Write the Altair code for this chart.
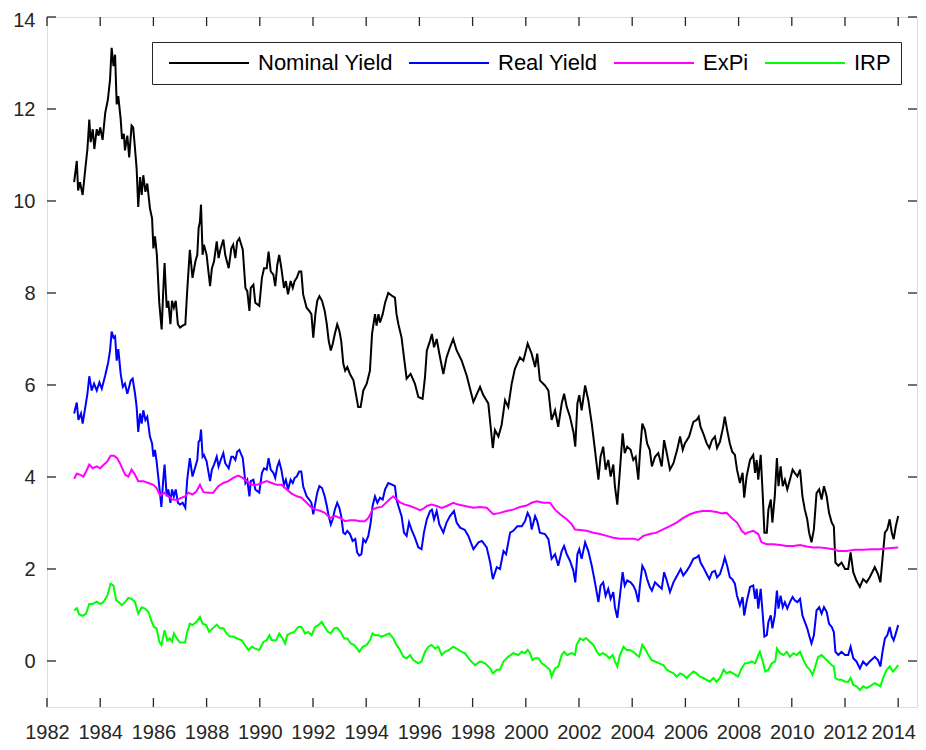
import altair as alt
import pandas as pd

series_names = ["Nominal Yield", "Real Yield", "ExPi", "IRP"]
series_colors = ["#000000", "#0000ff", "#ff00ff", "#00ff00"]
x_ticks = list(range(1982, 2015, 2))
y_ticks = list(range(0, 15, 2))

nominal_year = [
    1983.02, 1983.12, 1983.17, 1983.24, 1983.34, 1983.44, 1983.52, 1983.59, 1983.64, 1983.72,
    1983.78, 1983.87, 1983.94, 1984.00, 1984.09, 1984.19, 1984.29, 1984.37, 1984.43, 1984.50,
    1984.56, 1984.62, 1984.68, 1984.77, 1984.82, 1984.89, 1984.93, 1985.02, 1985.09, 1985.18,
    1985.24, 1985.31, 1985.37, 1985.43, 1985.50, 1985.56, 1985.62, 1985.70, 1985.77, 1985.87,
    1985.95, 1986.00, 1986.06, 1986.13, 1986.22, 1986.31, 1986.37, 1986.42, 1986.50, 1986.56,
    1986.64, 1986.70, 1986.77, 1986.84, 1986.92, 1987.00, 1987.10, 1987.20, 1987.27, 1987.37,
    1987.47, 1987.58, 1987.65, 1987.70, 1987.75, 1987.79, 1987.85, 1987.90, 1988.00, 1988.13,
    1988.20, 1988.28, 1988.38, 1988.45, 1988.53, 1988.63, 1988.70, 1988.83, 1988.93, 1989.00,
    1989.08, 1989.15, 1989.23, 1989.36, 1989.46, 1989.53, 1989.61, 1989.66, 1989.76, 1989.83,
    1989.98, 1990.08, 1990.16, 1990.26, 1990.33, 1990.41, 1990.51, 1990.58, 1990.66, 1990.73,
    1990.81, 1990.91, 1990.98, 1991.06, 1991.16, 1991.24, 1991.31, 1991.39, 1991.48, 1991.56,
    1991.63, 1991.76, 1991.86, 1991.94, 1992.01, 1992.09, 1992.16, 1992.24, 1992.34, 1992.44,
    1992.52, 1992.59, 1992.67, 1992.74, 1992.82, 1992.91, 1992.99, 1993.06, 1993.14, 1993.21,
    1993.29, 1993.39, 1993.52, 1993.70, 1993.79, 1993.89, 1994.02, 1994.14, 1994.22, 1994.33,
    1994.39, 1994.46, 1994.52, 1994.62, 1994.71, 1994.83, 1994.99, 1995.08, 1995.14, 1995.21,
    1995.33, 1995.42, 1995.52, 1995.67, 1995.83, 1995.96, 1996.12, 1996.21, 1996.28, 1996.40,
    1996.47, 1996.55, 1996.65, 1996.75, 1996.90, 1997.02, 1997.15, 1997.27, 1997.40, 1997.59,
    1997.78, 1998.03, 1998.28, 1998.40, 1998.59, 1998.76, 1998.84, 1998.97, 1999.09, 1999.22,
    1999.34, 1999.47, 1999.59, 1999.78, 1999.91, 2000.07, 2000.22, 2000.35, 2000.43, 2000.53,
    2000.72, 2000.85, 2000.97, 2001.10, 2001.22, 2001.35, 2001.44, 2001.54, 2001.66, 2001.79,
    2001.86, 2001.94, 2002.01, 2002.10, 2002.23, 2002.35, 2002.48, 2002.60, 2002.73, 2002.81,
    2002.91, 2003.00, 2003.10, 2003.19, 2003.29, 2003.35, 2003.44, 2003.54, 2003.64, 2003.72,
    2003.81, 2003.94, 2004.04, 2004.13, 2004.23, 2004.29, 2004.38, 2004.48, 2004.56, 2004.66,
    2004.74, 2004.86, 2004.98, 2005.11, 2005.20, 2005.30, 2005.42, 2005.55, 2005.69, 2005.80,
    2005.90, 2005.98, 2006.14, 2006.30, 2006.42, 2006.50, 2006.57, 2006.67, 2006.80, 2006.90,
    2007.00, 2007.11, 2007.19, 2007.30, 2007.42, 2007.48, 2007.57, 2007.67, 2007.76, 2007.86,
    2007.94, 2008.05, 2008.15, 2008.21, 2008.30, 2008.43, 2008.55, 2008.62, 2008.68, 2008.74,
    2008.83, 2008.91, 2008.97, 2009.06, 2009.12, 2009.21, 2009.27, 2009.36, 2009.44, 2009.50,
    2009.58, 2009.66, 2009.74, 2009.83, 2009.93, 2010.03, 2010.11, 2010.21, 2010.31, 2010.40,
    2010.49, 2010.58, 2010.65, 2010.74, 2010.83, 2010.93, 2011.03, 2011.12, 2011.21, 2011.31,
    2011.40, 2011.50, 2011.58, 2011.64, 2011.75, 2011.87, 2012.00, 2012.12, 2012.21, 2012.31,
    2012.43, 2012.56, 2012.68, 2012.81, 2012.93, 2013.12, 2013.24, 2013.33, 2013.41, 2013.50,
    2013.59, 2013.68, 2013.76, 2013.83, 2013.91, 2014.00,
]
nominal_value = [
    10.41, 10.87, 10.23, 10.41, 10.13, 10.70, 11.13, 11.77, 11.28, 11.56,
    11.13, 11.56, 11.42, 11.60, 11.33, 11.92, 12.21, 12.64, 13.33, 12.93,
    13.18, 12.10, 12.28, 11.78, 11.35, 11.46, 11.10, 11.42, 10.95, 11.64,
    11.60, 11.13, 10.70, 9.87, 10.52, 10.13, 10.56, 10.20, 10.38, 9.84,
    9.62, 8.97, 9.23, 8.83, 7.79, 7.21, 8.04, 8.65, 7.68, 7.83,
    7.32, 7.83, 7.68, 7.83, 7.32, 7.25, 7.29, 7.32, 8.04, 8.94,
    8.33, 8.69, 8.83, 9.41, 9.55, 9.92, 8.83, 9.05, 8.83, 8.15,
    8.54, 8.69, 9.12, 8.76, 8.97, 9.16, 8.83, 8.54, 8.97, 9.05,
    8.76, 9.12, 9.19, 8.94, 8.11, 8.04, 7.61, 8.11, 8.18, 7.79,
    7.72, 8.33, 8.54, 8.54, 8.90, 8.47, 8.40, 8.15, 8.62, 8.83,
    8.54, 8.11, 8.26, 7.97, 8.26, 8.11, 8.26, 8.33, 8.47, 8.47,
    7.97, 7.68, 7.61, 7.54, 7.03, 7.54, 7.83, 7.93, 7.83, 7.61,
    7.32, 6.96, 6.75, 6.89, 7.11, 7.32, 7.18, 6.96, 6.46, 6.31,
    6.39, 6.24, 6.10, 5.52, 5.52, 5.88, 6.03, 6.31, 7.11, 7.54,
    7.29, 7.54, 7.36, 7.54, 7.79, 8.00, 7.93, 7.90, 7.54, 7.32,
    7.03, 6.60, 6.14, 6.24, 6.03, 5.74, 5.70, 6.17, 6.75, 6.96,
    7.11, 6.82, 7.00, 6.68, 6.24, 6.60, 6.82, 7.00, 6.75, 6.53,
    6.20, 5.63, 5.96, 5.78, 5.60, 4.63, 5.02, 4.88, 5.13, 5.67,
    5.52, 6.03, 6.35, 6.60, 6.53, 6.90, 6.68, 6.39, 6.68, 6.10,
    5.99, 5.88, 5.24, 5.45, 5.09, 5.60, 5.81, 5.52, 5.31, 4.98,
    4.66, 5.60, 5.78, 5.45, 5.99, 5.67, 5.16, 4.59, 3.94, 4.44,
    4.66, 4.16, 4.37, 4.01, 4.27, 3.80, 3.40, 4.16, 4.95, 4.52,
    4.66, 4.59, 4.37, 4.44, 3.94, 4.52, 5.16, 5.02, 4.73, 4.59,
    4.23, 4.44, 4.52, 4.23, 4.80, 4.52, 4.16, 4.30, 4.59, 4.88,
    4.59, 4.73, 4.88, 5.20, 5.24, 5.31, 5.09, 4.95, 4.73, 4.63,
    4.80, 4.88, 4.63, 4.77, 5.09, 5.31, 5.02, 4.73, 4.55, 4.48,
    4.16, 3.87, 4.09, 3.55, 4.01, 4.37, 4.48, 4.09, 4.37, 3.94,
    4.48, 3.58, 2.79, 2.79, 3.29, 3.51, 3.01, 3.58, 4.41, 3.80,
    4.23, 3.80, 3.94, 3.73, 3.94, 4.16, 4.09, 4.01, 4.16, 3.58,
    3.29, 3.08, 2.79, 2.58, 2.86, 3.65, 3.73, 3.51, 3.80, 3.58,
    3.22, 3.01, 2.93, 2.14, 2.07, 2.14, 2.00, 2.00, 2.36, 1.93,
    1.75, 1.61, 1.78, 1.71, 1.82, 2.04, 1.89, 1.71, 2.22, 2.79,
    2.86, 3.08, 2.79, 2.65, 2.93, 3.15,
]

real_year = [
    1983.02, 1983.12, 1983.18, 1983.28, 1983.34, 1983.44, 1983.52, 1983.59, 1983.68, 1983.77,
    1983.87, 1983.97, 1984.06, 1984.19, 1984.30, 1984.37, 1984.43, 1984.50, 1984.56, 1984.62,
    1984.68, 1984.77, 1984.85, 1984.93, 1985.02, 1985.09, 1985.15, 1985.22, 1985.31, 1985.37,
    1985.43, 1985.50, 1985.56, 1985.62, 1985.70, 1985.77, 1985.87, 1985.95, 1986.00, 1986.06,
    1986.12, 1986.22, 1986.30, 1986.37, 1986.42, 1986.50, 1986.56, 1986.64, 1986.70, 1986.77,
    1986.84, 1986.92, 1987.00, 1987.10, 1987.20, 1987.27, 1987.37, 1987.47, 1987.58, 1987.65,
    1987.70, 1987.75, 1987.79, 1987.85, 1987.90, 1988.00, 1988.13, 1988.20, 1988.28, 1988.38,
    1988.45, 1988.53, 1988.63, 1988.70, 1988.83, 1988.93, 1989.00, 1989.08, 1989.15, 1989.23,
    1989.36, 1989.46, 1989.53, 1989.61, 1989.66, 1989.76, 1989.83, 1989.98, 1990.08, 1990.16,
    1990.26, 1990.33, 1990.41, 1990.51, 1990.58, 1990.66, 1990.73, 1990.81, 1990.91, 1990.98,
    1991.06, 1991.16, 1991.24, 1991.31, 1991.39, 1991.48, 1991.56, 1991.63, 1991.76, 1991.86,
    1991.94, 1992.01, 1992.09, 1992.16, 1992.24, 1992.34, 1992.44, 1992.52, 1992.59, 1992.67,
    1992.74, 1992.82, 1992.91, 1992.99, 1993.06, 1993.14, 1993.21, 1993.29, 1993.39, 1993.49,
    1993.59, 1993.66, 1993.74, 1993.82, 1993.89, 1993.98, 1994.08, 1994.17, 1994.24, 1994.33,
    1994.42, 1994.52, 1994.62, 1994.71, 1994.83, 1994.99, 1995.08, 1995.14, 1995.21, 1995.33,
    1995.42, 1995.52, 1995.61, 1995.70, 1995.83, 1995.96, 1996.08, 1996.17, 1996.28, 1996.40,
    1996.47, 1996.55, 1996.65, 1996.75, 1996.90, 1997.02, 1997.15, 1997.30, 1997.40, 1997.53,
    1997.71, 1997.84, 1998.03, 1998.22, 1998.35, 1998.53, 1998.66, 1998.76, 1998.91, 1999.03,
    1999.16, 1999.26, 1999.41, 1999.53, 1999.68, 1999.85, 1999.97, 2000.07, 2000.16, 2000.22,
    2000.35, 2000.43, 2000.53, 2000.72, 2000.85, 2000.97, 2001.10, 2001.22, 2001.35, 2001.44,
    2001.54, 2001.66, 2001.79, 2001.86, 2001.94, 2002.01, 2002.10, 2002.23, 2002.35, 2002.48,
    2002.60, 2002.73, 2002.81, 2002.91, 2003.00, 2003.10, 2003.19, 2003.29, 2003.35, 2003.44,
    2003.54, 2003.64, 2003.72, 2003.81, 2003.94, 2004.04, 2004.13, 2004.23, 2004.29, 2004.38,
    2004.48, 2004.56, 2004.66, 2004.74, 2004.86, 2004.98, 2005.11, 2005.20, 2005.30, 2005.42,
    2005.55, 2005.69, 2005.82, 2005.92, 2006.05, 2006.17, 2006.30, 2006.42, 2006.50, 2006.57,
    2006.67, 2006.80, 2006.90, 2007.00, 2007.11, 2007.19, 2007.30, 2007.42, 2007.48, 2007.57,
    2007.67, 2007.76, 2007.86, 2007.94, 2008.05, 2008.15, 2008.21, 2008.30, 2008.43, 2008.55,
    2008.62, 2008.68, 2008.74, 2008.83, 2008.91, 2008.97, 2009.06, 2009.12, 2009.21, 2009.27,
    2009.36, 2009.44, 2009.50, 2009.58, 2009.66, 2009.74, 2009.83, 2009.93, 2010.03, 2010.11,
    2010.21, 2010.31, 2010.40, 2010.49, 2010.58, 2010.65, 2010.74, 2010.83, 2010.93, 2011.03,
    2011.12, 2011.21, 2011.31, 2011.40, 2011.50, 2011.58, 2011.64, 2011.75, 2011.87, 2012.00,
    2012.12, 2012.21, 2012.31, 2012.43, 2012.56, 2012.68, 2012.81, 2012.93, 2013.12, 2013.24,
    2013.33, 2013.41, 2013.50, 2013.59, 2013.68, 2013.76, 2013.83, 2013.91, 2014.00,
]
real_value = [
    5.38, 5.62, 5.24, 5.38, 5.16, 5.52, 5.81, 6.19, 5.88, 6.03,
    5.88, 6.06, 5.92, 6.21, 6.49, 6.75, 7.16, 7.03, 7.06, 6.53,
    6.78, 6.24, 5.96, 6.03, 5.81, 5.96, 6.10, 6.14, 5.81, 5.52,
    4.98, 5.38, 5.16, 5.45, 5.24, 5.31, 4.88, 4.73, 4.44, 4.59,
    4.34, 3.80, 3.35, 3.94, 4.27, 3.58, 3.73, 3.44, 3.73, 3.58,
    3.73, 3.44, 3.40, 3.44, 3.33, 3.94, 4.41, 4.01, 4.23, 4.37,
    4.77, 4.80, 5.03, 4.44, 4.48, 4.34, 3.91, 4.16, 4.27, 4.44,
    4.23, 4.37, 4.52, 4.30, 4.19, 4.44, 4.44, 4.37, 4.55, 4.59,
    4.41, 3.87, 3.94, 3.58, 3.91, 3.94, 3.73, 3.66, 4.09, 4.19,
    4.16, 4.41, 4.16, 4.09, 3.98, 4.23, 4.34, 4.16, 3.83, 3.94,
    3.73, 3.94, 3.87, 3.98, 4.01, 4.12, 4.12, 3.80, 3.58, 3.51,
    3.44, 3.19, 3.44, 3.66, 3.80, 3.76, 3.58, 3.37, 3.15, 2.97,
    3.08, 3.29, 3.44, 3.33, 3.15, 2.79, 2.76, 2.83, 2.76, 2.61,
    2.65, 2.36, 2.29, 2.32, 2.65, 2.58, 2.72, 3.01, 3.37, 3.58,
    3.44, 3.55, 3.51, 3.73, 3.87, 3.83, 3.80, 3.51, 3.37, 3.15,
    2.79, 2.72, 3.01, 2.86, 2.68, 2.47, 2.43, 2.79, 3.08, 3.26,
    3.29, 3.08, 3.26, 2.97, 2.79, 3.01, 3.15, 3.26, 3.01, 2.90,
    2.85, 2.72, 2.43, 2.58, 2.61, 2.47, 2.14, 1.78, 2.04, 2.00,
    2.39, 2.32, 2.79, 2.83, 2.93, 2.93, 3.04, 3.22, 3.11, 2.86,
    3.15, 3.04, 2.79, 2.76, 2.65, 2.22, 2.32, 2.07, 2.39, 2.50,
    2.32, 2.18, 1.96, 1.71, 2.32, 2.43, 2.22, 2.58, 2.39, 2.07,
    1.71, 1.28, 1.64, 1.71, 1.42, 1.57, 1.35, 1.50, 1.17, 0.94,
    1.42, 1.93, 1.64, 1.75, 1.71, 1.64, 1.53, 1.28, 1.64, 2.07,
    1.96, 1.78, 1.61, 1.53, 1.71, 1.64, 1.57, 1.93, 1.75, 1.50,
    1.71, 1.86, 2.00, 1.86, 1.96, 2.07, 2.22, 2.25, 2.29, 2.14,
    2.04, 1.89, 1.78, 1.93, 1.96, 1.82, 1.89, 2.11, 2.25, 2.07,
    1.82, 1.78, 1.68, 1.42, 1.21, 1.39, 0.99, 1.28, 1.61, 1.64,
    1.35, 1.57, 1.14, 1.57, 0.99, 0.53, 0.56, 0.85, 0.99, 0.71,
    0.99, 1.53, 1.14, 1.42, 1.17, 1.28, 1.14, 1.28, 1.39, 1.32,
    1.28, 1.35, 0.99, 0.85, 0.71, 0.56, 0.38, 0.56, 1.10, 1.17,
    1.03, 1.17, 1.07, 0.81, 0.74, 0.63, 0.20, 0.13, 0.20, 0.13,
    0.13, 0.31, 0.06, -0.01, -0.16, -0.01, -0.09, -0.01, 0.09, 0.02,
    -0.12, 0.20, 0.49, 0.56, 0.74, 0.53, 0.45, 0.60, 0.78,
]

expi_year = [
    1983.02, 1983.12, 1983.24, 1983.37, 1983.47, 1983.59, 1983.72, 1983.87, 1984.00, 1984.14,
    1984.27, 1984.39, 1984.52, 1984.64, 1984.74, 1984.85, 1984.94, 1985.06, 1985.18, 1985.31,
    1985.43, 1985.62, 1985.81, 1986.00, 1986.12, 1986.25, 1986.40, 1986.56, 1986.72, 1986.88,
    1987.06, 1987.19, 1987.31, 1987.47, 1987.62, 1987.75, 1987.88, 1988.06, 1988.25, 1988.44,
    1988.63, 1988.82, 1989.00, 1989.19, 1989.36, 1989.51, 1989.70, 1989.89, 1990.07, 1990.26,
    1990.45, 1990.64, 1990.82, 1991.01, 1991.20, 1991.39, 1991.57, 1991.76, 1991.95, 1992.11,
    1992.29, 1992.44, 1992.64, 1992.83, 1993.02, 1993.20, 1993.39, 1993.58, 1993.77, 1993.95,
    1994.08, 1994.24, 1994.39, 1994.58, 1994.77, 1994.89, 1995.02, 1995.14, 1995.27, 1995.46,
    1995.65, 1995.83, 1996.02, 1996.15, 1996.28, 1996.46, 1996.65, 1996.84, 1997.03, 1997.27,
    1997.46, 1997.71, 1998.03, 1998.28, 1998.53, 1998.78, 1999.03, 1999.28, 1999.53, 1999.78,
    2000.03, 2000.22, 2000.41, 2000.66, 2000.91, 2001.10, 2001.29, 2001.54, 2001.73, 2001.85,
    2002.04, 2002.29, 2002.54, 2002.79, 2003.04, 2003.29, 2003.54, 2003.79, 2004.04, 2004.23,
    2004.42, 2004.66, 2004.91, 2005.16, 2005.42, 2005.67, 2005.92, 2006.17, 2006.42, 2006.67,
    2006.92, 2007.17, 2007.36, 2007.55, 2007.74, 2007.94, 2008.12, 2008.25, 2008.33, 2008.55,
    2008.74, 2008.86, 2009.06, 2009.31, 2009.56, 2009.81, 2010.06, 2010.31, 2010.56, 2010.80,
    2011.05, 2011.31, 2011.56, 2011.75, 2012.06, 2012.37, 2012.68, 2012.99, 2013.30, 2013.62,
    2014.00,
]
expi_value = [
    3.96, 4.07, 4.05, 4.01, 4.12, 4.27, 4.19, 4.23, 4.19, 4.27,
    4.34, 4.46, 4.46, 4.41, 4.30, 4.16, 4.05, 4.01, 4.16, 4.05,
    3.91, 3.91, 3.87, 3.83, 3.76, 3.60, 3.66, 3.58, 3.51, 3.50,
    3.55, 3.58, 3.66, 3.62, 3.69, 3.83, 3.67, 3.66, 3.66, 3.80,
    3.87, 3.91, 3.98, 4.03, 3.98, 3.91, 3.83, 3.83, 3.87, 3.91,
    3.87, 3.83, 3.83, 3.73, 3.64, 3.58, 3.55, 3.44, 3.33, 3.29,
    3.26, 3.22, 3.11, 3.15, 3.11, 3.04, 3.06, 3.06, 3.04, 3.04,
    3.11, 3.29, 3.33, 3.35, 3.45, 3.52, 3.58, 3.51, 3.45, 3.40,
    3.37, 3.33, 3.28, 3.31, 3.37, 3.40, 3.37, 3.33, 3.37, 3.44,
    3.40, 3.37, 3.33, 3.35, 3.33, 3.19, 3.22, 3.26, 3.29, 3.35,
    3.38, 3.44, 3.47, 3.44, 3.44, 3.29, 3.19, 3.08, 2.97, 2.86,
    2.85, 2.83, 2.79, 2.76, 2.72, 2.68, 2.66, 2.66, 2.66, 2.63,
    2.72, 2.76, 2.79, 2.86, 2.93, 3.01, 3.11, 3.19, 3.24, 3.26,
    3.26, 3.24, 3.21, 3.22, 3.11, 3.01, 2.83, 2.76, 2.79, 2.83,
    2.76, 2.58, 2.54, 2.54, 2.52, 2.50, 2.50, 2.52, 2.49, 2.47,
    2.47, 2.45, 2.43, 2.39, 2.39, 2.42, 2.42, 2.43, 2.43, 2.45,
    2.47,
]

irp_year = [
    1983.02, 1983.12, 1983.21, 1983.34, 1983.47, 1983.59, 1983.72, 1983.87, 1984.00, 1984.12,
    1984.27, 1984.39, 1984.50, 1984.60, 1984.70, 1984.81, 1984.93, 1985.06, 1985.18, 1985.31,
    1985.43, 1985.56, 1985.68, 1985.81, 1985.94, 1986.02, 1986.12, 1986.22, 1986.30, 1986.37,
    1986.42, 1986.52, 1986.62, 1986.70, 1986.77, 1986.88, 1987.00, 1987.19, 1987.27, 1987.37,
    1987.47, 1987.62, 1987.75, 1987.85, 1987.98, 1988.10, 1988.23, 1988.38, 1988.50, 1988.63,
    1988.75, 1988.88, 1989.00, 1989.15, 1989.32, 1989.44, 1989.57, 1989.70, 1989.83, 1989.98,
    1990.14, 1990.26, 1990.36, 1990.45, 1990.61, 1990.73, 1990.86, 1990.95, 1991.03, 1991.14,
    1991.29, 1991.45, 1991.57, 1991.70, 1991.82, 1991.95, 1992.08, 1992.20, 1992.33, 1992.44,
    1992.57, 1992.67, 1992.80, 1992.91, 1993.04, 1993.17, 1993.29, 1993.42, 1993.54, 1993.66,
    1993.74, 1993.87, 1994.02, 1994.14, 1994.24, 1994.33, 1994.46, 1994.58, 1994.71, 1994.87,
    1995.02, 1995.14, 1995.27, 1995.40, 1995.52, 1995.65, 1995.77, 1995.96, 1996.08, 1996.21,
    1996.34, 1996.46, 1996.59, 1996.71, 1996.84, 1996.96, 1997.12, 1997.27, 1997.40, 1997.59,
    1997.71, 1997.90, 1998.09, 1998.28, 1998.47, 1998.66, 1998.76, 1998.91, 1999.03, 1999.16,
    1999.34, 1999.53, 1999.72, 1999.85, 1999.97, 2000.07, 2000.16, 2000.25, 2000.35, 2000.48,
    2000.60, 2000.77, 2000.90, 2000.97, 2001.10, 2001.22, 2001.35, 2001.44, 2001.56, 2001.73,
    2001.85, 2001.91, 2002.04, 2002.16, 2002.26, 2002.41, 2002.54, 2002.67, 2002.77, 2002.89,
    2003.02, 2003.14, 2003.27, 2003.35, 2003.44, 2003.54, 2003.67, 2003.79, 2003.91, 2004.04,
    2004.17, 2004.26, 2004.38, 2004.48, 2004.61, 2004.73, 2004.86, 2005.02, 2005.17, 2005.30,
    2005.42, 2005.55, 2005.67, 2005.80, 2005.92, 2006.05, 2006.17, 2006.30, 2006.42, 2006.55,
    2006.67, 2006.80, 2006.92, 2007.05, 2007.17, 2007.30, 2007.44, 2007.55, 2007.67, 2007.79,
    2007.98, 2008.11, 2008.24, 2008.33, 2008.49, 2008.62, 2008.74, 2008.80, 2008.91, 2009.00,
    2009.12, 2009.25, 2009.38, 2009.44, 2009.56, 2009.69, 2009.81, 2009.93, 2010.06, 2010.18,
    2010.31, 2010.44, 2010.56, 2010.68, 2010.78, 2010.86, 2010.99, 2011.12, 2011.24, 2011.37,
    2011.50, 2011.58, 2011.64, 2011.75, 2011.87, 2012.00, 2012.12, 2012.21, 2012.31, 2012.43,
    2012.56, 2012.68, 2012.81, 2012.93, 2013.12, 2013.24, 2013.33, 2013.45, 2013.57, 2013.68,
    2013.80, 2013.91, 2014.00,
]
irp_value = [
    1.10, 1.15, 1.01, 0.98, 1.03, 1.24, 1.24, 1.29, 1.24, 1.28,
    1.42, 1.68, 1.64, 1.32, 1.28, 1.21, 1.28, 1.37, 1.35, 1.28,
    1.03, 1.17, 1.14, 1.07, 0.85, 0.74, 0.71, 0.42, 0.35, 0.53,
    0.67, 0.45, 0.49, 0.42, 0.60, 0.49, 0.40, 0.40, 0.63, 0.81,
    0.78, 0.85, 0.96, 0.81, 0.78, 0.63, 0.71, 0.79, 0.71, 0.71,
    0.60, 0.53, 0.53, 0.49, 0.45, 0.35, 0.24, 0.31, 0.27, 0.24,
    0.42, 0.45, 0.56, 0.45, 0.45, 0.60, 0.49, 0.38, 0.56, 0.60,
    0.63, 0.74, 0.74, 0.60, 0.63, 0.56, 0.74, 0.78, 0.85, 0.74,
    0.63, 0.60, 0.71, 0.72, 0.63, 0.49, 0.49, 0.38, 0.35, 0.27,
    0.20, 0.31, 0.35, 0.45, 0.60, 0.56, 0.56, 0.53, 0.56, 0.60,
    0.49, 0.35, 0.24, 0.09, 0.06, 0.13, 0.02, -0.05, -0.01, 0.20,
    0.31, 0.35, 0.27, 0.31, 0.13, 0.20, 0.24, 0.31, 0.27, 0.20,
    0.17, 0.02, -0.09, -0.01, -0.05, -0.16, -0.27, -0.19, -0.19, -0.01,
    0.09, 0.17, 0.13, 0.20, 0.17, 0.24, 0.17, 0.02, 0.06, 0.06,
    -0.05, -0.12, -0.19, -0.34, -0.16, -0.12, 0.13, 0.20, 0.13, 0.17,
    0.13, 0.35, 0.49, 0.45, 0.50, 0.42, 0.35, 0.20, 0.13, 0.17,
    0.13, 0.06, 0.13, -0.01, -0.12, 0.13, 0.31, 0.24, 0.24, 0.20,
    0.13, 0.09, 0.35, 0.27, 0.13, 0.02, -0.01, -0.05, -0.09, -0.19,
    -0.23, -0.27, -0.34, -0.27, -0.30, -0.37, -0.30, -0.23, -0.27, -0.34,
    -0.37, -0.41, -0.45, -0.37, -0.45, -0.37, -0.19, -0.27, -0.23, -0.27,
    -0.34, -0.16, -0.05, -0.05, -0.01, -0.05, 0.13, 0.20, -0.01, -0.23,
    -0.19, -0.05, -0.01, 0.27, 0.17, 0.13, 0.20, 0.09, 0.17, 0.13,
    0.20, 0.02, -0.12, -0.19, -0.30, -0.16, 0.09, 0.13, 0.06, -0.01,
    -0.09, -0.12, -0.37, -0.41, -0.41, -0.45, -0.45, -0.37, -0.52, -0.55,
    -0.63, -0.55, -0.59, -0.55, -0.48, -0.52, -0.55, -0.34, -0.19, -0.12,
    -0.23, -0.16, -0.09,
]

frames = []
for name, yrs, vals in [
    ("Nominal Yield", nominal_year, nominal_value),
    ("Real Yield", real_year, real_value),
    ("ExPi", expi_year, expi_value),
    ("IRP", irp_year, irp_value),
]:
    frames.append(pd.DataFrame({"year": yrs, "value": vals, "series": name}))
df = pd.concat(frames, ignore_index=True)

# layout (pixels)
PX_PER_YEAR = 26.6
W, H = 870, 690
TOP_PAD = 9
TICK = 9
FONT = "Liberation Sans"
AXIS_COLOR = "#262626"
X_MIN = 1982
X_MAX = X_MIN + W / PX_PER_YEAR

xscale = alt.Scale(domain=[X_MIN, X_MAX], nice=False, zero=False)
yscale = alt.Scale(domain=[-1, 14], nice=False, zero=False)

x_axis = alt.Axis(values=x_ticks, format="d", title=None, ticks=False, tickSize=0,
                  domain=False, grid=False, labelFontSize=20, labelFont=FONT,
                  labelColor=AXIS_COLOR, labelPadding=31, labelBaseline="alphabetic",
                  labelFlush=False, labelOverlap=False,
                  labelOffset={"expr": f"datum.value == {x_ticks[-1]} ? -5 : 0"})
y_axis = alt.Axis(values=y_ticks, format="d", title=None, ticks=False, tickSize=0,
                  domain=False, grid=False, labelFontSize=20, labelFont=FONT,
                  labelColor=AXIS_COLOR, labelPadding=12, labelFlush=False,
                  labelOverlap=False,
                  labelOffset={"expr": f"datum.value == {y_ticks[-1]} ? 3 : 0"})

legend = alt.Legend(title=None, orient="none", legendX=105, legendY=42 - (8 + TOP_PAD),
                    direction="horizontal", columns=4,
                    symbolType="M-4,0H4", symbolSize=400, symbolStrokeWidth=2,
                    symbolOffset=36, labelOffset=38,
                    labelFontSize=22, labelFont=FONT, labelColor="black", labelLimit=400,
                    columnPadding=9, padding=10,
                    strokeColor=AXIS_COLOR, fillColor="white")

lines = alt.Chart(df).mark_line(strokeWidth=2).encode(
    x=alt.X("year:Q", scale=xscale, axis=x_axis),
    y=alt.Y("value:Q", scale=yscale, axis=y_axis),
    color=alt.Color("series:N",
                    scale=alt.Scale(domain=series_names, range=series_colors),
                    legend=legend),
    detail="series:N",
)

xt = pd.DataFrame({"year": x_ticks})
yt = pd.DataFrame({"value": y_ticks})
tick_style = dict(color=AXIS_COLOR, strokeWidth=1.3)

bottom_ticks = alt.Chart(xt).mark_rule(**tick_style).encode(
    x=alt.X("year:Q", scale=xscale, axis=x_axis), y=alt.value(H), y2=alt.value(H - TICK))
top_ticks = alt.Chart(xt).mark_rule(**tick_style).encode(
    x=alt.X("year:Q", scale=xscale, axis=x_axis), y=alt.value(0), y2=alt.value(TICK))
left_ticks = alt.Chart(yt).mark_rule(**tick_style).encode(
    y=alt.Y("value:Q", scale=yscale, axis=y_axis), x=alt.value(0), x2=alt.value(TICK))
right_ticks = alt.Chart(yt).mark_rule(**tick_style).encode(
    y=alt.Y("value:Q", scale=yscale, axis=y_axis), x=alt.value(W), x2=alt.value(W - TICK))

chart = alt.layer(lines, bottom_ticks, top_ticks, left_ticks, right_ticks).properties(
    width=W, height=H,
    autosize=alt.AutoSizeParams(type="none"),
    padding={"left": 39, "top": TOP_PAD, "right": 1, "bottom": 35},
).configure_view(stroke=AXIS_COLOR, strokeWidth=1.3).configure(background="white")

chart.save("out.html", embed_options={"renderer": "svg", "actions": False})
